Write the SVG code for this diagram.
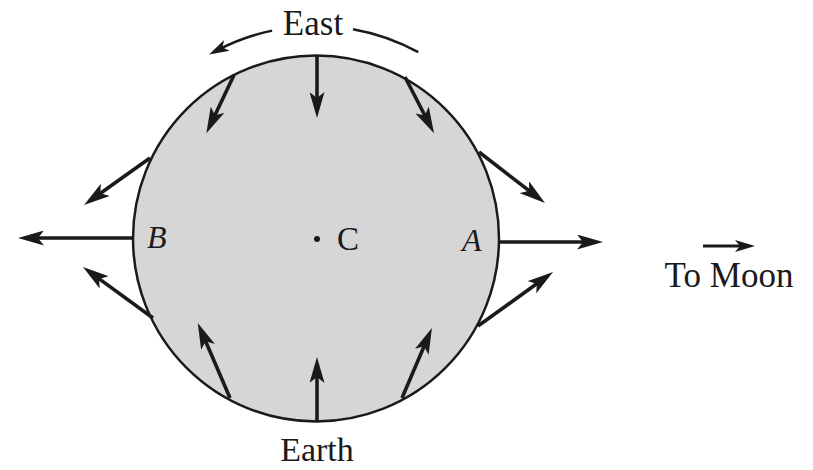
<svg xmlns="http://www.w3.org/2000/svg" width="813" height="470" viewBox="0 0 813 470">
<defs>
<marker id="ah" markerUnits="userSpaceOnUse" viewBox="0 0 26 15" refX="14" refY="7.5" markerWidth="26" markerHeight="15" orient="auto">
<path d="M0,0 L26,7.5 L0,15 L6,7.5 Z" fill="#1a1a1a"/>
</marker>
<marker id="ahs" markerUnits="userSpaceOnUse" viewBox="0 0 20 12" refX="10" refY="6" markerWidth="20" markerHeight="12" orient="auto">
<path d="M0,0 L20,6 L0,12 L5,6 Z" fill="#1a1a1a"/>
</marker>
</defs>
<style>
.f{stroke:#1a1a1a;stroke-width:3.6;fill:none;marker-end:url(#ah)}
.t{font-family:"Liberation Serif","Times New Roman",serif;fill:#1a1a1a}
.i{font-style:italic}
</style>
<rect width="813" height="470" fill="#ffffff"/>
<g id="earth">
<circle cx="316" cy="238.5" r="183" fill="#d6d6d6" stroke="#1a1a1a" stroke-width="2.5"/>
<circle cx="317" cy="239" r="3" fill="#1a1a1a"/>
<text class="t" x="337" y="250" font-size="33">C</text>
<text class="t i" x="147" y="248" font-size="32">B</text>
<text class="t i" x="462" y="251" font-size="32">A</text>
</g>
<g id="connectors">
<path class="f" d="M317,56 L317,106"/>
<path class="f" d="M234,75 L211.5,122.5"/>
<path class="f" d="M405,77 L428.5,122.5"/>
<path class="f" d="M479,152 L535.5,195.7"/>
<path class="f" d="M500,242 L591,242"/>
<path class="f" d="M478,326 L543.3,279"/>
<path class="f" d="M150,158 L93.8,198"/>
<path class="f" d="M133,238 L30,238"/>
<path class="f" d="M153,318 L92.7,274.1"/>
<path class="f" d="M317,421 L317,369"/>
<path class="f" d="M230,398 L202.5,334"/>
<path class="f" d="M402,398 L427.2,339"/>
<path class="f" d="M703,246 L745,246" style="marker-end:url(#ahs);stroke-width:3"/>
</g>
<g id="east">
<path d="M272.1,30.6 A213,213 0 0 0 218,49.9" fill="none" stroke="#1a1a1a" stroke-width="2.5" marker-end="url(#ahs)"/>
<path d="M353,29.2 A213,213 0 0 1 418.3,52.2" fill="none" stroke="#1a1a1a" stroke-width="2.5"/>
<text class="t" x="313" y="35" font-size="35" text-anchor="middle">East</text>
</g>
<g id="labels">
<text class="t" x="317" y="461" font-size="34" text-anchor="middle">Earth</text>
<text class="t" x="729" y="287" font-size="35" text-anchor="middle">To Moon</text>
</g>
</svg>
